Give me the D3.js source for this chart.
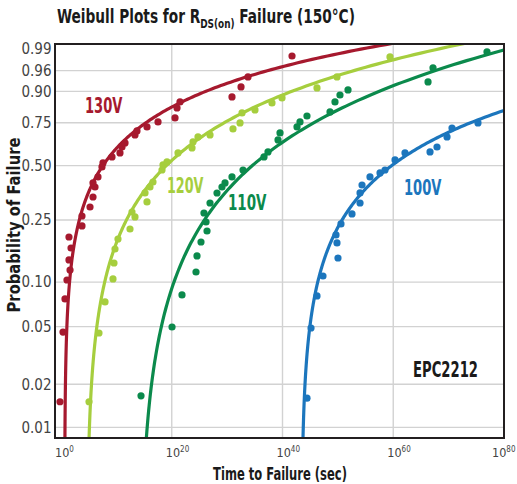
<!DOCTYPE html>
<html><head><meta charset="utf-8">
<script src="https://cdn.jsdelivr.net/npm/d3@7"></script>
<style>
body{margin:0;background:#fff;}
svg{display:block;}
text{font-family:"Liberation Sans Narrow","DejaVu Sans Condensed","Roboto Condensed","Liberation Sans",sans-serif;}
</style></head><body>
<svg id="chart" width="517" height="484"></svg>
<script>
// ---- data (time as log10 seconds, probability of failure) ----
const voltages = ["130V", "120V", "110V", "100V"];

const logT130 = [-0.18, 0.36, 0.72, 1.08, 1.63, 1.44, 1.81, 1.44, 3.79, 3.79, 5.24, 5.78, 6.14, 5.78, 6.68, 7.40, 7.58, 9.21, 10.65, 11.02, 11.56, 13.36, 13.72, 15.53, 17.52, 20.59, 20.95, 21.49, 30.88, 32.51, 33.77, 41.72];
const prob130 = [0.0151, 0.0459, 0.0771, 0.1033, 0.1202, 0.1399, 0.1671, 0.1963, 0.2298, 0.2643, 0.2988, 0.3412, 0.3877, 0.4075, 0.4383, 0.4924, 0.5149, 0.5493, 0.5727, 0.6081, 0.6319, 0.6794, 0.7029, 0.7260, 0.7543, 0.7763, 0.8280, 0.8563, 0.8779, 0.9156, 0.9453, 0.9831];

const logT120 = [5.06, 6.86, 7.95, 9.39, 9.57, 9.75, 10.29, 12.46, 13.36, 12.82, 15.53, 15.17, 16.07, 16.61, 18.24, 18.42, 19.14, 21.13, 23.66, 23.84, 24.74, 26.91, 31.06, 32.33, 32.69, 35.03, 38.10, 39.91, 46.23, 49.84, 59.41];
const prob120 = [0.0151, 0.0452, 0.0736, 0.1049, 0.1337, 0.1647, 0.1907, 0.2202, 0.2607, 0.2792, 0.3195, 0.3594, 0.3877, 0.4125, 0.4757, 0.5036, 0.5206, 0.5727, 0.6022, 0.6379, 0.6676, 0.6794, 0.7145, 0.7487, 0.8028, 0.8181, 0.8517, 0.8738, 0.9122, 0.9453, 0.9820];

const logT110 = [14.45, 20.05, 21.85, 24.38, 24.56, 25.28, 26.37, 26.19, 25.82, 26.91, 28.17, 29.07, 29.62, 30.88, 32.87, 36.66, 37.38, 39.19, 39.55, 42.62, 43.16, 44.42, 48.58, 49.48, 50.38, 51.83, 66.28, 67.18, 76.93];
const prob110 = [0.0166, 0.0497, 0.0820, 0.1167, 0.1485, 0.1825, 0.2140, 0.2431, 0.2754, 0.3152, 0.3593, 0.3877, 0.4075, 0.4383, 0.4757, 0.5493, 0.5786, 0.6498, 0.6912, 0.7260, 0.7543, 0.7870, 0.8080, 0.8563, 0.8860, 0.9051, 0.9315, 0.9653, 0.9872];

const logT100 = [44.42, 45.15, 46.23, 47.31, 50.02, 49.84, 49.66, 50.56, 52.55, 54.00, 54.00, 54.36, 55.80, 57.61, 58.51, 60.32, 62.12, 66.64, 67.90, 69.71, 70.61, 75.30];
const prob100 = [0.0160, 0.0489, 0.0808, 0.1098, 0.1441, 0.1800, 0.2021, 0.2364, 0.2717, 0.3152, 0.3594, 0.3975, 0.4383, 0.4595, 0.4757, 0.5320, 0.5727, 0.5786, 0.6081, 0.6676, 0.7202, 0.7487];

// fitted Weibull lines: ln(-ln(1-F)) = shape * ln(log10 t - shift) + offset
const fitShift  = [0.653, 4.62, 14.12, 43.4];
const fitShape  = [0.92, 1.27, 1.597, 1.104];
const fitOffset = [-2.145, -3.754, -5.185, -3.449];

const yTicks = [0.01, 0.02, 0.05, 0.10, 0.25, 0.50, 0.75, 0.90, 0.96, 0.99];
const xTicks = [0, 20, 40, 60, 80];

// ---- layout / style ----
const colors = ["#A6192E", "#A6CE3E", "#0B8A4C", "#1C76BD"];
const frame = {left: 55, right: 504, top: 44, bottom: 438};
const svg = d3.select("#chart");

const weib = p => Math.log(-Math.log(1 - p));
const x = d3.scaleLinear().domain([0, 80]).range([61, 504]);
const y = d3.scaleLinear().domain([weib(0.01), weib(0.99)]).range([427.4, 48.5]);

const series = [
  {t: logT130, p: prob130},
  {t: logT120, p: prob120},
  {t: logT110, p: prob110},
  {t: logT100, p: prob100}
];

svg.append("defs").append("clipPath").attr("id", "plotclip")
  .append("rect").attr("x", frame.left).attr("y", frame.top)
  .attr("width", frame.right - frame.left).attr("height", frame.bottom - frame.top);

// grid
const grid = svg.append("g").attr("stroke", "#d2d2d2").attr("stroke-width", 1.4);
xTicks.filter(d => d > 0 && d < 80).forEach(d => {
  grid.append("line").attr("x1", x(d)).attr("x2", x(d)).attr("y1", frame.top).attr("y2", frame.bottom);
});
yTicks.filter(d => d < 0.99).forEach(d => {
  grid.append("line").attr("x1", frame.left).attr("x2", frame.right).attr("y1", y(weib(d))).attr("y2", y(weib(d)));
});

// fit curves
const plot = svg.append("g").attr("clip-path", "url(#plotclip)");
const line = d3.line().x(d => x(d[0])).y(d => y(d[1]));
series.forEach((s, i) => {
  const u0 = fitShift[i], b = fitShape[i], c = fitOffset[i];
  const pts = [];
  for (let k = -10; ; k += 0.02) {
    const u = u0 + Math.exp(k);
    pts.push([u, b * k + c]);
    if (u > 82) break;
  }
  plot.append("path").attr("d", line(pts)).attr("fill", "none")
    .attr("stroke", colors[i]).attr("stroke-width", 3.2).attr("stroke-linecap", "round");
});

// points
series.forEach((s, i) => {
  plot.append("g").selectAll("circle").data(d3.zip(s.t, s.p)).join("circle")
    .attr("cx", d => x(d[0])).attr("cy", d => y(weib(d[1])))
    .attr("r", 3.6).attr("fill", colors[i]);
});

// frame
svg.append("rect").attr("x", frame.left).attr("y", frame.top)
  .attr("width", frame.right - frame.left).attr("height", frame.bottom - frame.top)
  .attr("fill", "none").attr("stroke", "#231f20").attr("stroke-width", 2);

// y tick labels
svg.append("g").selectAll("text").data(yTicks).join("text")
  .attr("x", 51.5).attr("y", d => y(weib(d))).attr("dy", "0.36em")
  .attr("text-anchor", "end").attr("font-size", 15).attr("fill", "#444")
  .text(d => d.toFixed(2));

// x tick labels
xTicks.forEach(d => {
  const cx = Math.min(x(d), 498);
  const t = svg.append("text").attr("x", cx - 6).attr("y", 456.5)
    .attr("font-size", 12.5).attr("fill", "#444");
  t.append("tspan").text("10");
  t.append("tspan").attr("font-size", 8).attr("dy", -5).text(d);
});

// scaled text helper
function label(txt, opts) {
  const g = svg.append("g").attr("transform", `translate(${opts.x},${opts.y})` + (opts.rotate ? ` rotate(${opts.rotate})` : ""));
  const t = g.append("text").attr("text-anchor", opts.anchor || "start")
    .attr("font-size", opts.size).attr("font-weight", "bold").attr("fill", opts.color || "#1a1a1a");
  if (typeof txt === "function") txt(t); else t.text(txt);
  const w = t.node().getBBox().width;
  if (opts.width) t.attr("transform", `scale(${opts.width / w},1)`);
  return t;
}

label(t => {
  t.append("tspan").text("Weibull Plots for R");
  t.append("tspan").attr("font-size", 13).attr("dy", 4.5).text("DS(on)");
  t.append("tspan").attr("dy", -4.5).text(" Failure (150°C)");
}, {x: 57, y: 23, size: 20, width: 298});

label("Time to Failure (sec)", {x: 280, y: 479.5, size: 17.5, anchor: "middle", width: 134});
label("Probability of Failure", {x: 19.5, y: 225, size: 17.5, anchor: "middle", rotate: -90, width: 175});

const labelPos = [[85, 113, 38], [167, 193, 37], [228, 210, 39], [404, 195, 38]];
voltages.forEach((v, i) => {
  label(v, {x: labelPos[i][0], y: labelPos[i][1], size: 20.5, width: labelPos[i][2], color: colors[i]});
});
label("EPC2212", {x: 413, y: 376.5, size: 21, width: 65, color: "#1a1a1a"});
</script>
</body></html>
